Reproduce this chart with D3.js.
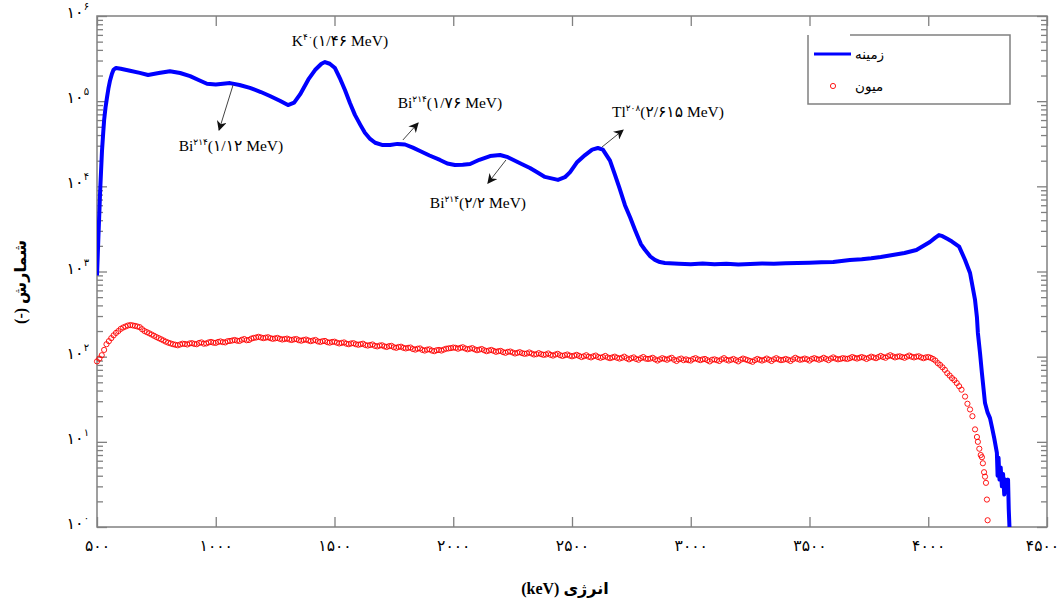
<!DOCTYPE html>
<html lang="fa">
<head>
<meta charset="UTF-8">
<title>طیف زمینه و میون</title>
<script src="https://cdn.jsdelivr.net/npm/d3@7/dist/d3.min.js"></script>
<style>
  body { margin: 0; background: #fff; }
  svg { display: block; }
  .serif { font-family: "Liberation Serif", "DejaVu Sans", serif; }
</style>
</head>
<body>
<svg width="1062" height="600"></svg>
<script>
// ---- data ----
// background spectrum (blue line): energy keV / counts
var bgEnergy = [500, 503, 506, 510, 513, 517, 521, 526, 530, 536,
  542, 548, 555, 563, 570, 580, 600, 639, 680, 715,
  760, 807, 850, 892, 930, 963, 1000, 1060, 1100, 1144,
  1190, 1228, 1270, 1304, 1330, 1355, 1390, 1418, 1445, 1460,
  1480, 1502, 1525, 1544, 1565, 1586, 1610, 1628, 1650, 1671,
  1700, 1734, 1765, 1797, 1830, 1860, 1900, 1944, 1975, 2007,
  2040, 2071, 2110, 2155, 2197, 2230, 2260, 2290, 2323, 2355,
  2386, 2441, 2470, 2492, 2520, 2555, 2585, 2609, 2630, 2660,
  2681, 2700, 2723, 2745, 2765, 2790, 2807, 2830, 2849, 2870,
  2891, 2950, 3000, 3050, 3100, 3150, 3200, 3250, 3300, 3350,
  3400, 3450, 3500, 3550, 3600, 3670, 3720, 3760, 3800, 3850,
  3900, 3950, 4007, 4030, 4045, 4060, 4080, 4100, 4130, 4155,
  4176, 4197, 4205, 4209, 4218, 4226, 4239, 4250, 4260, 4268,
  4278, 4289, 4292, 4296, 4300, 4305, 4310, 4315, 4320, 4326,
  4331, 4336, 4339, 4342];
var bgCounts = [900, 1500, 2600, 5000, 8500, 15000, 26000, 42000, 60000, 85000,
  110000, 140000, 175000, 210000, 235000, 245000, 240000, 228000, 215000, 203000,
  214000, 225000, 214000, 197000, 176000, 160000, 157000, 163000, 155000, 143000,
  128000, 115000, 101000, 90000, 96000, 120000, 180000, 232000, 275000, 288000,
  275000, 245000, 180000, 135000, 95000, 69000, 52000, 42500, 36000, 32500,
  30600, 30600, 31500, 31000, 28500, 26000, 23000, 20400, 18500, 17800,
  17900, 18300, 20500, 22700, 23300, 22000, 20000, 18200, 16400, 14500,
  12900, 11900, 12800, 14700, 19000, 23300, 27000, 28200, 27000, 20000,
  13600, 9500, 6000, 4300, 3100, 2100, 1800, 1500, 1370, 1290,
  1260, 1235, 1215, 1240, 1220, 1235, 1210, 1228, 1245, 1230,
  1250, 1262, 1268, 1282, 1295, 1365, 1390, 1430, 1480, 1560,
  1650, 1790, 2220, 2500, 2680, 2600, 2420, 2250, 1960, 1365,
  960, 463, 290, 190, 110, 64, 28.5, 22, 19, 15,
  11, 7.4, 4, 6.5, 3.6, 5, 3, 4.2, 2.4, 3.6,
  2.8, 3.6, 1.6, 1];

// muon spectrum (red circles): energy keV / counts, first pass of readings
var muEnergy = [500, 520, 540, 560, 580, 600, 620, 640, 660, 680,
  700, 720, 740, 760, 780, 800, 820, 840, 860, 880,
  900, 920, 940, 960, 980, 1000, 1020, 1040, 1060, 1080,
  1100, 1120, 1140, 1160, 1180, 1200, 1220, 1240, 1260, 1280,
  1300, 1320, 1340, 1360, 1380, 1400, 1420, 1440, 1460, 1480,
  1500, 1520, 1540, 1560, 1580, 1600, 1620, 1640, 1660, 1680,
  1700, 1720, 1740, 1760, 1780, 1800, 1820, 1840, 1860, 1880,
  1900, 1920, 1940, 1960, 1980, 2000, 2020, 2040, 2060, 2080,
  2100, 2120, 2140, 2160, 2180, 2200, 2220, 2240, 2260, 2280,
  2300, 2320, 2340, 2360, 2380, 2400, 2420, 2440, 2460, 2480,
  2500, 2520, 2540, 2560, 2580, 2600, 2620, 2640, 2660, 2680,
  2700, 2720, 2740, 2760, 2780, 2800, 2820, 2840, 2860, 2880,
  2900, 2920, 2940, 2960, 2980, 3000, 3020, 3040, 3060, 3080,
  3100, 3120, 3140, 3160, 3180, 3200, 3220, 3240, 3260, 3280,
  3300, 3320, 3340, 3360, 3380, 3400, 3420, 3440, 3460, 3480,
  3500, 3520, 3540, 3560, 3580, 3600, 3620, 3640, 3660, 3680,
  3700, 3720, 3740, 3760, 3780, 3800, 3820, 3840, 3860, 3880,
  3900, 3920, 3940, 3960, 3980, 4000, 4020, 4040, 4060, 4080,
  4100, 4120, 4140, 4155, 4165, 4176, 4186, 4197, 4205, 4209,
  4215, 4221, 4226, 4230, 4235, 4239, 4243, 4247, 4250];
var muCounts = [88, 104, 140, 165, 190, 212, 226, 235, 230, 222,
  200, 188, 176, 165, 155, 146, 140, 136, 142, 139,
  144, 140, 147, 143, 149, 145, 151, 147, 153, 157,
  153, 161, 157, 166, 171, 165, 169, 162, 166, 159,
  163, 157, 161, 154, 159, 152, 157, 149, 153, 146,
  150, 143, 147, 140, 144, 138, 142, 135, 139, 132,
  136, 130, 134, 127, 131, 125, 128, 121, 125, 118,
  122, 116, 120, 121, 125, 128, 124, 129, 122, 126,
  119, 123, 116, 120, 114, 117, 111, 115, 109, 113,
  108, 112, 106, 110, 105, 109, 103, 108, 102, 106,
  101, 105, 99, 104, 98, 103, 97, 102, 96, 100,
  95, 100, 93, 98, 92, 99, 94, 97, 90, 96,
  92, 97, 89, 95, 93, 90, 96, 91, 94, 88,
  93, 89, 96, 90, 94, 88, 95, 91, 87, 94,
  90, 95, 89, 96, 91, 94, 89, 97, 92, 95,
  90, 96, 92, 97, 91, 98, 93, 96, 94, 99,
  95, 99, 94, 100, 96, 102, 97, 104, 98, 101,
  97, 103, 98, 101, 96, 99, 94, 84, 75, 64,
  56, 49, 41, 34, 28, 24, 20, 14, 11.4, 10,
  8.3, 7, 6.6, 5.6, 4.4, 3.9, 3.3, 2.1, 1.2];

// muon spectrum, second pass of readings (the channels in between)
var muEnergy2 = [510, 530, 550, 570, 590, 610, 630, 650, 670, 690,
  710, 730, 750, 770, 790, 810, 830, 850, 870, 890,
  910, 930, 950, 970, 990, 1010, 1030, 1050, 1070, 1090,
  1110, 1130, 1150, 1170, 1190, 1210, 1230, 1250, 1270, 1290,
  1310, 1330, 1350, 1370, 1390, 1410, 1430, 1450, 1470, 1490,
  1510, 1530, 1550, 1570, 1590, 1610, 1630, 1650, 1670, 1690,
  1710, 1730, 1750, 1770, 1790, 1810, 1830, 1850, 1870, 1890,
  1910, 1930, 1950, 1970, 1990, 2010, 2030, 2050, 2070, 2090,
  2110, 2130, 2150, 2170, 2190, 2210, 2230, 2250, 2270, 2290,
  2310, 2330, 2350, 2370, 2390, 2410, 2430, 2450, 2470, 2490,
  2510, 2530, 2550, 2570, 2590, 2610, 2630, 2650, 2670, 2690,
  2710, 2730, 2750, 2770, 2790, 2810, 2830, 2850, 2870, 2890,
  2910, 2930, 2950, 2970, 2990, 3010, 3030, 3050, 3070, 3090,
  3110, 3130, 3150, 3170, 3190, 3210, 3230, 3250, 3270, 3290,
  3310, 3330, 3350, 3370, 3390, 3410, 3430, 3450, 3470, 3490,
  3510, 3530, 3550, 3570, 3590, 3610, 3630, 3650, 3670, 3690,
  3710, 3730, 3750, 3770, 3790, 3810, 3830, 3850, 3870, 3890,
  3910, 3930, 3950, 3970, 3990, 4010, 4030, 4050, 4070, 4090,
  4110, 4130];
var muCounts2 = [95, 120, 152, 178, 200, 220, 232, 233, 226, 210,
  194, 182, 170, 160, 150, 143, 138, 139, 141, 143,
  141, 145, 142, 147, 146, 149, 148, 152, 155, 154,
  158, 156, 163, 168, 168, 167, 165, 164, 162, 161,
  159, 160, 156, 157, 155, 155, 151, 152, 148, 149,
  146, 145, 142, 143, 140, 140, 137, 137, 134, 135,
  132, 133, 129, 130, 127, 127, 123, 124, 120, 121,
  118, 119, 118, 124, 126, 127, 127, 125, 124, 122,
  121, 119, 118, 117, 116, 113, 114, 112, 111, 110,
  109, 109, 107, 107, 106, 105, 106, 104, 104, 103,
  103, 102, 101, 100, 101, 99, 99, 98, 98, 97,
  97, 96, 96, 94, 96, 95, 95, 93, 93, 94,
  95, 92, 93, 91, 91, 94, 93, 93, 91, 92,
  91, 93, 92, 92, 91, 92, 93, 89, 91, 92,
  92, 92, 93, 93, 92, 92, 93, 94, 93, 93,
  94, 94, 94, 94, 95, 95, 94, 95, 96, 97,
  97, 97, 97, 98, 99, 99, 101, 101, 100, 99,
  100, 100, 100, 98, 98, 97, 90, 80, 70, 60,
  53, 45];

var xTicks = [500, 1000, 1500, 2000, 2500, 3000, 3500, 4000, 4500];
var yTicks = [1, 10, 100, 1000, 10000, 100000, 1000000];
var seriesNames = ["زمینه", "میون"];

// peak annotations: label centre / baseline and arrow (keV, counts)
var noteName = ["K", "Bi", "Bi", "Bi", "Tl"];
var noteMass = ["۴۰", "۲۱۴", "۲۱۴", "۲۱۴", "۲۰۸"];
var noteText = ["(۱/۴۶ MeV)", "(۱/۱۲ MeV)", "(۱/۷۶ MeV)", "(۲/۲ MeV)", "(۲/۶۱۵ MeV)"];
var noteE = [1523, 1064, 1986, 2104, 2904];
var noteC = [444000, 26000, 83100, 5560, 65200];
var arrowFromE = [null, 1073, 1788, 2222, 2626];
var arrowFromC = [null, 155000, 35000, 20400, 28900];
var arrowToE = [null, 1014, 1852, 2146, 2715];
var arrowToC = [null, 45800, 55400, 10900, 45800];

// ---- drawing ----
var svg = d3.select("svg");
var box = {left: 97, right: 1047, top: 16, bottom: 527};
var grey = "#808080";

function fa(n) {
  return String(n).replace(/\d/g, function(d) { return "۰۱۲۳۴۵۶۷۸۹"[d]; });
}

var x = d3.scaleLinear().domain([500, 4500]).range([box.left, box.right]);
var y = d3.scaleLog().domain([1, 1e6]).range([box.bottom, box.top]);

var yMinor = [];
yTicks.slice(0, -1).forEach(function(d) {
  d3.range(2, 10).forEach(function(m) { yMinor.push(m * d); });
});

svg.append("defs").append("clipPath").attr("id", "plot")
  .append("rect")
  .attr("x", box.left).attr("y", box.top)
  .attr("width", box.right - box.left).attr("height", box.bottom - box.top);

var marker = svg.select("defs").append("marker")
  .attr("id", "arrow").attr("viewBox", "0 0 10 10")
  .attr("refX", 9).attr("refY", 5)
  .attr("markerUnits", "userSpaceOnUse")
  .attr("markerWidth", 10).attr("markerHeight", 10)
  .attr("orient", "auto");
marker.append("path").attr("d", "M0,0 L10,5 L0,10 L3,5 Z").attr("fill", "#111");

// axes, ticks point inward on all four sides
function tidy(g) {
  g.select(".domain").remove();
  g.selectAll(".tick line").attr("stroke", grey).attr("stroke-width", 1.3);
}
var xAxisG = svg.append("g").attr("transform", "translate(0," + box.bottom + ")")
  .call(d3.axisBottom(x).tickValues(xTicks).tickSizeInner(-10).tickSizeOuter(0)
    .tickPadding(13).tickFormat(fa))
  .call(tidy);
xAxisG.selectAll("text").attr("class", "serif").attr("font-size", 15.5).attr("fill", "#000");
// last label sits against the page edge
xAxisG.selectAll(".tick").filter(function(d) { return d === 4500; })
  .select("text").attr("dx", -5);
svg.append("g").attr("transform", "translate(0," + box.top + ")")
  .call(d3.axisTop(x).tickValues(xTicks).tickSizeInner(-10).tickSizeOuter(0).tickFormat(""))
  .call(tidy);
svg.append("g").attr("transform", "translate(" + box.left + ",0)")
  .call(d3.axisLeft(y).tickValues(yTicks).tickSizeInner(-10).tickSizeOuter(0).tickFormat(""))
  .call(tidy);
svg.append("g").attr("transform", "translate(" + box.left + ",0)")
  .call(d3.axisLeft(y).tickValues(yMinor).tickSizeInner(-6).tickSizeOuter(0).tickFormat(""))
  .call(tidy);
svg.append("g").attr("transform", "translate(" + box.right + ",0)")
  .call(d3.axisRight(y).tickValues(yTicks).tickSizeInner(-10).tickSizeOuter(0).tickFormat(""))
  .call(tidy);
svg.append("g").attr("transform", "translate(" + box.right + ",0)")
  .call(d3.axisRight(y).tickValues(yMinor).tickSizeInner(-6).tickSizeOuter(0).tickFormat(""))
  .call(tidy);

svg.append("rect")
  .attr("x", box.left).attr("y", box.top)
  .attr("width", box.right - box.left).attr("height", box.bottom - box.top)
  .attr("fill", "none").attr("stroke", grey).attr("stroke-width", 1.5);

// y tick labels 10^n in Persian digits
var yLab = svg.append("g").selectAll("text").data(yTicks).enter().append("text")
  .attr("class", "serif")
  .attr("x", 89).attr("y", function(d) { return y(d) + 2; })
  .attr("text-anchor", "end").attr("font-size", 16);
yLab.append("tspan").text("۱۰");
yLab.append("tspan").attr("font-size", 10).attr("dy", -8)
  .text(function(d) { return fa(Math.round(Math.log10(d))); });

// muon circles
var muE = muEnergy.concat(muEnergy2);
var muC = muCounts.concat(muCounts2);
svg.append("g").selectAll("circle").data(muE).enter().append("circle")
  .attr("cx", function(d) { return x(d); })
  .attr("cy", function(d, i) { return y(muC[i]); })
  .attr("r", 2.6)
  .attr("fill", "none").attr("stroke", "#ff0000").attr("stroke-width", 0.9);

// background line
var line = d3.line()
  .x(function(d) { return x(d); })
  .y(function(d, i) { return y(bgCounts[i]); });
svg.append("path").datum(bgEnergy)
  .attr("clip-path", "url(#plot)")
  .attr("d", line)
  .attr("fill", "none").attr("stroke", "#0000ff")
  .attr("stroke-width", 4).attr("stroke-linejoin", "round");

// annotations
var notes = svg.append("g");
noteName.forEach(function(n, i) {
  if (arrowFromE[i] !== null) {
    notes.append("line")
      .attr("x1", x(arrowFromE[i])).attr("y1", y(arrowFromC[i]))
      .attr("x2", x(arrowToE[i])).attr("y2", y(arrowToC[i]))
      .attr("stroke", "#444").attr("stroke-width", 1)
      .attr("marker-end", "url(#arrow)");
  }
  var t = notes.append("text").attr("class", "serif")
    .attr("x", x(noteE[i])).attr("y", y(noteC[i]))
    .attr("text-anchor", "middle").attr("font-size", 15.5);
  t.append("tspan").text(n);
  t.append("tspan").attr("font-size", 9).attr("dy", -6).text(noteMass[i]);
  t.append("tspan").attr("dy", 6).text(noteText[i]);
});

// axis titles
svg.append("text").attr("class", "serif")
  .attr("x", 565).attr("y", 594)
  .attr("direction", "rtl").attr("text-anchor", "middle")
  .attr("font-size", 16).attr("font-weight", "bold")
  .text("انرژی (keV)");
svg.append("text").attr("class", "serif")
  .attr("transform", "translate(26,282) rotate(-90)")
  .attr("direction", "rtl").attr("text-anchor", "middle")
  .attr("font-size", 16).attr("font-weight", "bold")
  .text("شمارش (-)");

// legend
var lg = svg.append("g");
lg.append("path").attr("d", "M850,35 H1010 V104 H808 V35")
  .attr("fill", "none").attr("stroke", grey).attr("stroke-width", 1.5);
lg.append("line").attr("x1", 814).attr("x2", 851).attr("y1", 54).attr("y2", 54)
  .attr("stroke", "#0000ff").attr("stroke-width", 3);
lg.append("circle").attr("cx", 833).attr("cy", 86).attr("r", 2.6)
  .attr("fill", "none").attr("stroke", "#ff0000").attr("stroke-width", 0.9);
lg.selectAll("text").data(seriesNames).enter().append("text")
  .attr("x", 855).attr("y", function(d, i) { return 59 + i * 32; })
  .attr("font-family", "DejaVu Sans, sans-serif").attr("font-size", 13.5)
  .text(function(d) { return d; });
</script>
</body>
</html>
